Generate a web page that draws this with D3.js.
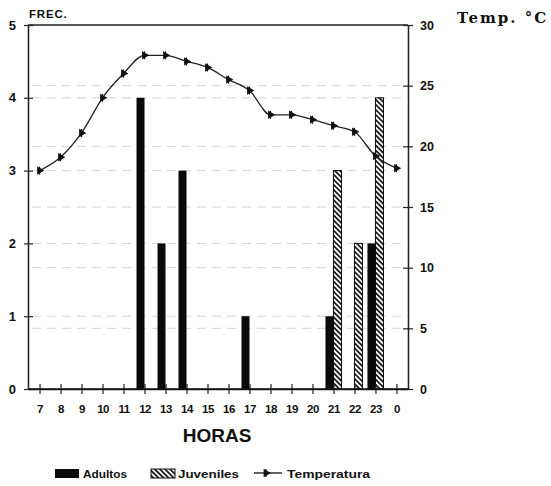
<!DOCTYPE html>
<html>
<head>
<meta charset="utf-8">
<script src="https://cdn.jsdelivr.net/npm/d3@7"></script>
<style>
  body { margin: 0; background: #fff; }
  svg { display: block; }
  text { font-family: "Liberation Sans", Arial, sans-serif; font-weight: bold; fill: #111; }
</style>
</head>
<body>
<svg id="chart" width="551" height="486"></svg>
<script>
// Hourly observations: frequency of adults / juveniles and air temperature
const horas       = ["7","8","9","10","11","12","13","14","15","16","17","18","19","20","21","22","23","0"];
const adultos     = [0, 0, 0, 0, 0, 4, 2, 3, 0, 0, 1, 0, 0, 0, 1, 0, 2, 0];
const juveniles   = [0, 0, 0, 0, 0, 0, 0, 0, 0, 0, 0, 0, 0, 0, 3, 2, 4, 0];
const temperatura = [18.0, 19.1, 21.1, 24.0, 26.0, 27.5, 27.5, 27.0, 26.5, 25.5, 24.6, 22.6, 22.6, 22.2, 21.7, 21.2, 19.2, 18.2];
const frecTicks   = [0, 1, 2, 3, 4, 5];
const tempTicks   = [0, 5, 10, 15, 20, 25, 30];
const series      = ["Adultos", "Juveniles"];

const svg = d3.select("#chart");
const plot = { left: 28, right: 408, top: 25, bottom: 389 };

const x  = d3.scalePoint().domain(horas).range([plot.left, plot.right]).padding(0.55);
const xs = d3.scaleBand().domain(series).range([-8, 8]).paddingInner(0);
const yL = d3.scaleLinear().domain([0, 5]).range([plot.bottom, plot.top]);
const yR = d3.scaleLinear().domain([0, 30]).range([plot.bottom, plot.top]);
const fmt = d3.format("d");

// hatch fill for juveniles
const defs = svg.append("defs");
const pat = defs.append("pattern")
  .attr("id", "hatch").attr("patternUnits", "userSpaceOnUse")
  .attr("width", 3.6).attr("height", 3.6)
  .attr("patternTransform", "rotate(-45)");
pat.append("rect").attr("width", 3.6).attr("height", 3.6).attr("fill", "#fff");
pat.append("line").attr("x1", 0.9).attr("y1", 0).attr("x2", 0.9).attr("y2", 3.6)
  .attr("stroke", "#111").attr("stroke-width", 1.7);

// faint dashed gridlines for both scales
const grid = svg.append("g").attr("stroke", "#d6d6d6").attr("stroke-width", 1).attr("stroke-dasharray", "9 6");
grid.selectAll("line.gl").data(frecTicks.filter(d => d > 0 && d < 5)).join("line")
  .attr("x1", plot.left + 4).attr("x2", plot.right - 4)
  .attr("y1", d => yL(d)).attr("y2", d => yL(d));
grid.selectAll("line.gr").data(tempTicks.filter(d => d > 0 && d < 30)).join("line")
  .attr("x1", plot.left + 4).attr("x2", plot.right - 4)
  .attr("y1", d => yR(d)).attr("y2", d => yR(d));

// top frame line
svg.append("line").attr("x1", plot.left).attr("x2", plot.right).attr("y1", plot.top).attr("y2", plot.top)
  .attr("stroke", "#222").attr("stroke-width", 1.3);

// bars
const rows = horas.map((h, i) => ({ h, Adultos: adultos[i], Juveniles: juveniles[i] }));
const barG = svg.append("g");
rows.forEach(r => {
  series.forEach(s => {
    if (r[s] > 0) {
      barG.append("rect")
        .attr("x", x(r.h) + xs(s))
        .attr("y", yL(r[s]))
        .attr("width", xs.bandwidth())
        .attr("height", yL(0) - yL(r[s]))
        .attr("fill", s === "Adultos" ? "#0a0a0a" : "url(#hatch)")
        .attr("stroke", "#0a0a0a")
        .attr("stroke-width", s === "Adultos" ? 0 : 1);
    }
  });
});

// axes
function styleAxis(g) {
  g.select(".domain").attr("stroke", "#222").attr("stroke-width", 1.3);
  g.selectAll(".tick line").attr("stroke", "#222").attr("stroke-width", 1.2);
}
const labelFont = g => g.selectAll("text")
  .style("font-family", '"Liberation Sans", Arial, sans-serif').style("font-weight", "bold").attr("fill", "#111");

svg.append("g").attr("transform", `translate(${plot.left},0)`)
  .call(d3.axisLeft(yL).tickValues(frecTicks).tickFormat(fmt).tickSizeInner(4).tickSizeOuter(0).tickPadding(8))
  .call(styleAxis)
  .call(labelFont)
  .call(g => g.selectAll("text").attr("font-size", 13));
svg.append("g").attr("transform", `translate(${plot.left},0)`)
  .call(d3.axisLeft(yL).tickValues(frecTicks).tickSizeInner(-5).tickSizeOuter(0).tickFormat(""))
  .call(styleAxis);

svg.append("g").attr("transform", `translate(${plot.right},0)`)
  .call(d3.axisRight(yR).tickValues(tempTicks).tickFormat(fmt).tickSizeInner(5).tickSizeOuter(0).tickPadding(7))
  .call(styleAxis)
  .call(labelFont)
  .call(g => g.selectAll("text").attr("font-size", 12.5));
svg.append("g").attr("transform", `translate(${plot.right},0)`)
  .call(d3.axisRight(yR).tickValues(tempTicks).tickSizeInner(-5).tickSizeOuter(0).tickFormat(""))
  .call(styleAxis);

svg.append("g").attr("transform", `translate(0,${plot.bottom})`)
  .call(d3.axisBottom(x).tickSizeInner(5).tickSizeOuter(0).tickPadding(11))
  .call(styleAxis)
  .call(labelFont)
  .call(g => g.selectAll("text").attr("font-size", 11.5).attr("letter-spacing", -0.5));
svg.append("g").attr("transform", `translate(0,${plot.bottom})`)
  .call(d3.axisBottom(x).tickSizeInner(-5).tickSizeOuter(0).tickFormat(""))
  .call(g => g.select(".domain").remove())
  .call(g => g.selectAll(".tick line").attr("stroke", "#222").attr("stroke-width", 1.2));
svg.append("line").attr("x1", plot.left).attr("x2", plot.right).attr("y1", plot.bottom).attr("y2", plot.bottom)
  .attr("stroke", "#111").attr("stroke-width", 1.5);

// temperature line
const line = d3.line()
  .x((d, i) => x(horas[i]))
  .y(d => yR(d))
  .curve(d3.curveMonotoneX);
svg.append("path").datum(temperatura)
  .attr("d", line).attr("fill", "none").attr("stroke", "#222").attr("stroke-width", 1.3);

const marker = d3.symbol().type(d3.symbolTriangle).size(30);
function drawMarker(g, cx, cy) {
  g.append("path").attr("d", marker())
    .attr("transform", `translate(${cx},${cy}) rotate(90)`).attr("fill", "#111");
  g.append("line").attr("x1", cx).attr("x2", cx).attr("y1", cy - 4).attr("y2", cy + 4)
    .attr("stroke", "#111").attr("stroke-width", 1.2);
}
const mg = svg.append("g");
temperatura.forEach((t, i) => drawMarker(mg, x(horas[i]), yR(t)));

// titles
svg.append("text").attr("x", 29).attr("y", 18).attr("font-size", 11.5).attr("letter-spacing", 0.8).text("FREC.");
svg.append("text").attr("x", 457).attr("y", 23)
  .style("font-family", '"DejaVu Serif", "Liberation Serif", serif').style("font-weight", "bold")
  .attr("font-size", 15).attr("letter-spacing", 2).text("Temp. °C");
svg.append("text").attr("x", 217).attr("y", 442).attr("text-anchor", "middle").attr("font-size", 19).text("HORAS");

// legend
const lg = svg.append("g");
lg.append("rect").attr("x", 55).attr("y", 469).attr("width", 24).attr("height", 9).attr("fill", "#0a0a0a");
lg.append("text").attr("x", 83).attr("y", 477.5).attr("font-size", 10.5).attr("textLength", 44).attr("lengthAdjust", "spacingAndGlyphs").text("Adultos");
lg.append("rect").attr("x", 151).attr("y", 469).attr("width", 24).attr("height", 9).attr("fill", "url(#hatch)").attr("stroke", "#111").attr("stroke-width", 1);
lg.append("text").attr("x", 178).attr("y", 477.5).attr("font-size", 10.5).attr("textLength", 61).attr("lengthAdjust", "spacingAndGlyphs").text("Juveniles");
lg.append("line").attr("x1", 254).attr("x2", 282).attr("y1", 473).attr("y2", 473).attr("stroke", "#111").attr("stroke-width", 1.3);
drawMarker(lg, 266, 473);
lg.append("text").attr("x", 287).attr("y", 477.5).attr("font-size", 10.5).attr("textLength", 83).attr("lengthAdjust", "spacingAndGlyphs").text("Temperatura");
</script>
</body>
</html>
